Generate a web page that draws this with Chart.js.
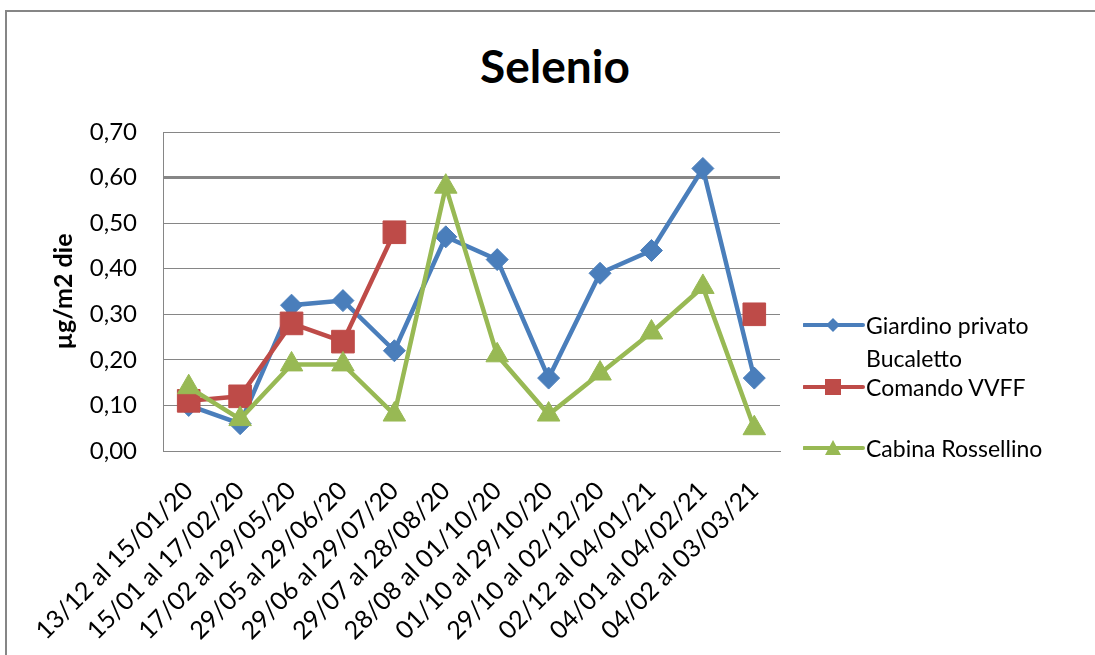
<!DOCTYPE html>
<html>
<head>
<meta charset="utf-8">
<script src="https://cdn.jsdelivr.net/npm/chart.js@4"></script>
<style>
  html,body{margin:0;padding:0;background:#fff;overflow:hidden;}
  #wrap{position:relative;width:1095px;height:655px;overflow:hidden;font-family:Lato,"Open Sans",sans-serif;}
  #frame{position:absolute;left:5px;top:10px;width:1200px;height:800px;border-left:2px solid #868686;border-top:2px solid #868686;box-sizing:border-box;}
  #title{position:absolute;left:0;width:1095px;padding-left:15px;box-sizing:border-box;top:38px;text-align:center;font-size:46px;font-weight:bold;color:#000;}
  #chart{position:absolute;left:0;top:0;}
  .lg{position:absolute;left:803px;font-size:23px;color:#000;line-height:33px;}
  .lg svg{position:absolute;left:0;top:0;}
  .lg span{position:absolute;left:63px;white-space:nowrap;}
</style>
</head>
<body>
<div id="wrap">
  <div id="frame"></div>
  <div id="title">Selenio</div>
  <canvas id="chart" width="1095" height="655"></canvas>
  <div id="legend"></div>
</div>
<script>
const labels = ['13/12 al 15/01/20','15/01 al 17/02/20','17/02 al 29/05/20','29/05 al 29/06/20','29/06 al 29/07/20','29/07 al 28/08/20','28/08 al 01/10/20','01/10 al 29/10/20','29/10 al 02/12/20','02/12 al 04/01/21','04/01 al 04/02/21','04/02 al 03/03/21'];
const giardino = [0.10, 0.06, 0.32, 0.33, 0.22, 0.47, 0.42, 0.16, 0.39, 0.44, 0.62, 0.16];
const comando  = [0.11, 0.12, 0.28, 0.24, 0.48, null, null, null, null, null, null, 0.30];
const cabina   = [0.14, 0.07, 0.19, 0.19, 0.08, 0.58, 0.21, 0.08, 0.17, 0.26, 0.36, 0.05];
const yMax = 0.7, yStep = 0.1;

const BLUE='#4A7EBB', RED='#BE4B48', GREEN='#98B954', GRID='#868686';

function ds(label, data, color, style, radius, order){
  return { label, data, borderColor:color, backgroundColor:color, borderWidth:4.5, pointStyle:style,
    pointRadius:radius, pointHoverRadius:radius, pointBorderWidth:1, pointBorderColor:color, pointBackgroundColor:color,
    tension:0, spanGaps:false, order };
}

new Chart(document.getElementById('chart'), {
  type:'line',
  data:{ labels, datasets:[
    ds('Giardino privato Bucaletto', giardino, BLUE, 'rectRot', 11, 3),
    ds('Comando VVFF', comando, RED, 'rect', 16, 2),
    ds('Cabina Rossellino', cabina, GREEN, 'triangle', 13, 1)
  ]},
  options:{
    responsive:false, animation:false, events:[],
    layout:{ padding:{ left:0, top:132, right:315, bottom:0 } },
    plugins:{ legend:{display:false}, title:{display:false}, tooltip:{enabled:false} },
    scales:{
      x:{
        offset:true,
        grid:{ drawOnChartArea:false, drawTicks:false },
        border:{ display:true, color:GRID, width:1 },
        ticks:{ color:'#000', font:{ family:'Lato', size:25 }, minRotation:45, maxRotation:45, padding:25, autoSkip:false },
        afterFit(s){ s.height = 204; }
      },
      y:{
        min:0, max:yMax,
        grid:{ color:GRID, drawTicks:false, lineWidth:c => Math.abs(c.tick.value-0.6)<1e-6 ? 3 : 1 },
        border:{ display:true, color:GRID, width:1 },
        ticks:{ stepSize:yStep, color:'#000', font:{ family:'Lato', size:24 }, padding:26,
          callback:v => Number(v).toFixed(2).replace('.',',') },
        title:{ display:true, text:'µg/m2 die', color:'#000', font:{ family:'Lato', size:25, weight:'bold' }, padding:{top:49, bottom:0} },
        afterFit(s){ s.width = 163; }
      }
    }
  }
});

// legend
const legendItems = [
  { lines:['Giardino privato','Bucaletto'], color:BLUE, shape:'diamond', top:309 },
  { lines:['Comando VVFF'], color:RED, shape:'square', top:371 },
  { lines:['Cabina Rossellino'], color:GREEN, shape:'triangle', top:432 }
];
const lg = document.getElementById('legend');
legendItems.forEach(it => {
  const d = document.createElement('div');
  d.className = 'lg'; d.style.top = it.top + 'px';
  let mk = '';
  if (it.shape==='diamond') mk = `<polygon points="30,9 37,16 30,23 23,16" fill="${it.color}"/>`;
  if (it.shape==='square') mk = `<rect x="22" y="8" width="16" height="16" fill="${it.color}"/>`;
  if (it.shape==='triangle') mk = `<polygon points="30,8 38,23 22,23" fill="${it.color}"/>`;
  d.innerHTML = `<svg width="62" height="32"><line x1="1" y1="16" x2="60" y2="16" stroke="${it.color}" stroke-width="4" stroke-linecap="round"/>${mk}</svg>` +
    it.lines.map((t,i)=>`<span style="top:${i*33}px">${t}</span>`).join('');
  lg.appendChild(d);
});
</script>
</body>
</html>
